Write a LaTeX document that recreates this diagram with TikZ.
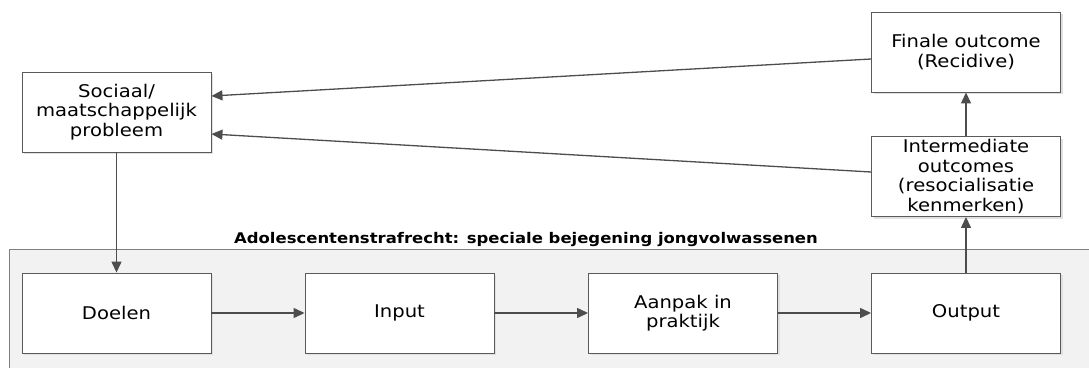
\documentclass[tikz,border=0pt]{standalone}
\usepackage{fontspec}
\setmainfont{DejaVu Sans}[FakeStretch=1.12]
\usetikzlibrary{arrows.meta,shadows}
\definecolor{linegray}{HTML}{4D4D4D}
\definecolor{boxgray}{HTML}{5A5A5A}
\definecolor{panelgray}{HTML}{F2F2F2}
\definecolor{panelline}{HTML}{7F7F7F}
\tikzset{
  box/.style={draw=boxgray, line width=0.9pt, fill=white, minimum width=189pt, minimum height=80pt,
    inner sep=0pt, align=center, text=black, font=\fontsize{17.5}{19.5}\selectfont,
    drop shadow={shadow xshift=2pt, shadow yshift=-2pt, fill=black!12, opacity=1}},
  arr/.style={draw=linegray, line width=1.3pt, -{Triangle[length=11pt,width=10pt]}}
}
\begin{document}
\begin{tikzpicture}[x=1pt,y=-1pt]
\useasboundingbox (0,0) rectangle (1089,367);
% panel
\fill[panelgray] (9,249) rectangle (1095,370);
\draw[draw=panelline, line width=0.9pt] (9,370) -- (9,249) -- (1095,249);
\node[anchor=base, font=\fontsize{14.7}{16}\selectfont\bfseries] (title) at (526,243)
  {Adolescentenstrafrecht: speciale bejegening jongvolwassenen};
% boxes
\node[box] (soc) at (116.5,112) {Sociaal/\\maatschappelijk\\probleem};
\node[box] (fin) at (966,52) {Finale outcome\\(Recidive)};
\node[box] (int) at (966,176.5) {Intermediate\\outcomes\\(resocialisatie\\kenmerken)};
\node[box] (doel) at (116.5,313) {Doelen};
\node[box] (inp) at (399.5,313) {Input};
\node[box] (aan) at (683,313) {Aanpak in\\praktijk};
\node[box] (out) at (966,313) {Output};
% connectors
\draw[arr] ([yshift=-7pt]fin.west) -- ([yshift=16pt]soc.east);
\draw[arr] ([yshift=4.5pt]int.west) -- ([yshift=-22pt]soc.east);
\draw[arr] (soc.south) -- (doel.north);
\draw[arr] (doel.east) -- (inp.west);
\draw[arr] (inp.east) -- (aan.west);
\draw[arr] (aan.east) -- (out.west);
\draw[arr] (out.north) -- (int.south);
\draw[arr] (int.north) -- (fin.south);
\end{tikzpicture}
\end{document}
